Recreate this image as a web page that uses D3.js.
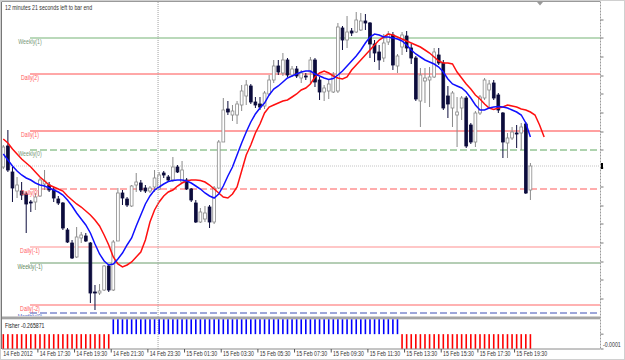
<!DOCTYPE html>
<html>
<head>
<meta charset="utf-8">
<script src="https://cdn.jsdelivr.net/npm/d3@7"></script>
<style>
body { margin: 0; background: #fff; }
svg { display: block; font-family: "Liberation Sans", Arial, sans-serif; }
</style>
</head>
<body>
<svg id="chart" width="625" height="360"></svg>
<script>
// 15 minute bars, 14 Feb 15:45 .. 15 Feb 20:15 (price in chart points, the scale is hidden on the original)
const open = [153,174,148,129,129,126,118,118,124,136, 135,130,121,117,90,77,63,82,84,77,
  28,27,30,54,30,79,127,121,114,135, 137,132,129,133,131,147,143,140,153,138,
  140,131,117,98,101,113,98,132,178,211, 205,205,215,224,234,218,216,214,226,240,
  254,247,260,245,251,242,244,248,260,240, 228,229,228,229,292,280,289,288,290,299,
  297,276,268,262,278,285,254,273,284,272, 262,219,239,240,243,265,257,224,212,205,
  212,222,195,178,207,222,230,237,225,207, 177,182,187,187,196,130];
const high = [175,190,153,143,138,128,120,127,142,150, 138,133,124,118,92,80,93,88,87,78,
  35,36,55,56,80,132,130,123,135,147, 140,135,134,150,148,149,145,163,155,159,
  142,132,120,112,114,115,134,180,222,219, 215,219,235,240,236,223,223,229,245,260,
  260,267,262,254,254,250,247,263,262,243, 235,240,248,297,294,304,292,308,307,306,
  298,280,275,286,289,288,266,288,289,276, 264,252,252,253,272,272,260,234,229,223,
  224,224,197,209,225,242,240,240,227,208, 187,193,195,197,198,157];
const low = [151,148,118,122,120,87,108,110,123,130, 128,118,115,90,77,61,62,77,78,17,
  10,25,29,28,29,79,115,113,113,128, 128,127,127,128,130,142,138,138,147,137,
  130,118,97,97,98,92,96,131,178,205, 199,196,209,215,216,212,210,211,224,237,
  245,244,243,243,242,237,240,236,233,220, 219,221,227,227,270,272,284,287,289,290,
  262,258,250,258,275,250,247,265,268,256, 219,193,217,213,242,255,210,202,193,173,
  200,172,176,173,205,220,212,220,207,162, 162,180,172,170,126,120];
const close = [173,150,132,135,125,116,117,123,140,139, 130,122,117,92,78,62,83,85,79,27,
  27,29,54,30,78,127,122,115,134,138, 130,129,132,142,145,145,140,153,148,150,
  131,120,98,108,107,98,132,178,210,208, 209,216,229,235,218,215,213,227,240,254,
  248,260,245,251,244,247,243,260,238,228, 232,236,245,293,280,288,287,300,299,297,
  276,267,260,277,286,255,264,285,272,262, 221,245,242,243,268,257,212,216,227,208,
  222,174,178,207,223,240,236,222,210,178, 182,188,186,193,127,154];

// blue moving average, one value per bar
const fastMA = [166,160,154,149,145,142,140,137,135,134, 132,130,128,125,120,114,107,101,95,87,
  76,66,59,55,56,61,67,75,82,94, 105,116,124,130,133,136,138.5,139.5,140,140,
  139,137,134,131,127,124,122,126,134,144, 153,165,177,188,198,206,212,217,225,231,
  234,238,242,244,246,248,249,249,246,244, 242,240.5,241.5,245,249,254,259,264,270,277,
  283,286,285,283,283,282,281,279,275,270, 266,263,260,258,256,253,248,241,236,234,
  232,228,222,215,210,210,212,213,213.5,213, 212,210,208,205,197,183];
// red moving average, drawn 3 bars forward (it runs 3 bars past the last candle);
// slowMA[k] is the value shown at bar position k
const slowMA = [181,177,171,166,161,157,153,148,143,139, 135,133,131,129,124,120,116,113,109,105,
  100,94,85,75,63,56,53,55,58,63, 68,80,98,110,118,124,128,130,134,137,
  139,140,140,139.5,138,135,131,127,123,122, 126,133,149,165,175,187,196,207,213,215,
  217,219,220,223,226,230,232,236,243,247, 249,247,244,242,241,243,250,255,260,265,
  270,275,280,283,286,285,283,281,279,277, 275,273,270,267,263,259,257,257,256,248,
  242,236,231,225,221,216,212,210.5,212,213, 215,214,213,211,210,208,205,195,183];

// Fisher histogram, one value per bar
const fisherHist = [
  -1e-4,-1e-4,-1e-4,-1e-4,-1e-4,-1e-4,-1e-4,-1e-4,-1e-4,-1e-4,-1e-4,-1e-4,
  -1e-4,-1e-4,-1e-4,-1e-4,-1e-4,-1e-4,-1e-4,-1e-4,-1e-4,-1e-4,-1e-4,-1e-4,
  1e-4,1e-4,1e-4,1e-4,1e-4,1e-4,1e-4,1e-4,1e-4,1e-4,1e-4,1e-4,
  1e-4,1e-4,1e-4,1e-4,1e-4,1e-4,1e-4,1e-4,1e-4,1e-4,1e-4,1e-4,
  1e-4,1e-4,1e-4,1e-4,1e-4,1e-4,1e-4,1e-4,1e-4,1e-4,1e-4,1e-4,
  1e-4,1e-4,1e-4,1e-4,1e-4,1e-4,1e-4,1e-4,1e-4,1e-4,1e-4,1e-4,
  1e-4,1e-4,1e-4,1e-4,1e-4,1e-4,1e-4,1e-4,1e-4,1e-4,1e-4,1e-4,
  1e-4,1e-4,1e-4,
  -1e-4,-1e-4,-1e-4,-1e-4,-1e-4,-1e-4,-1e-4,-1e-4,-1e-4,-1e-4,-1e-4,-1e-4,
  -1e-4,-1e-4,-1e-4,-1e-4,-1e-4,-1e-4,-1e-4,-1e-4,-1e-4,-1e-4,-1e-4,-1e-4,
  -1e-4,-1e-4,-1e-4,-1e-4,-1e-4];
const fisherValue = "-0.265871";

const pivotNames = ["Weekly(1)", "Daily(2)", "Daily(1)", "Weekly(0)", "Daily(0)", "Daily(-1)", "Weekly(-1)", "Daily(-2)", "Monthly(0)"];
const pivotValues = [282, 246, 189, 170, 131, 73, 57, 15, 7];

const priceTicks = [21, 40, 58, 77, 96, 114, 133, 152, 170, 188, 207, 226, 244, 263, 282, 300];

const timeLabels = ["14 Feb 2012", "14 Feb 17:30", "14 Feb 19:30", "14 Feb 21:30", "14 Feb 23:30", "15 Feb 01:30",
  "15 Feb 03:30", "15 Feb 05:30", "15 Feb 07:30", "15 Feb 09:30", "15 Feb 11:30", "15 Feb 13:30",
  "15 Feb 15:30", "15 Feb 17:30", "15 Feb 19:30"];
const timeLabelBars = [0, 7, 15, 23, 31, 39, 47, 55, 63, 71, 79, 87, 95, 103, 111];
const dayStartBar = 33; // 15 Feb 00:00

const countdownText = "12 minutes 21 seconds left to bar end";

// styles
const pivotStyle = {
    "Weekly(1)":  {stroke: "#a3cda3", width: 1.6, dash: null, label: "#789878"},
    "Daily(2)":   {stroke: "#ff5050", width: 1, dash: null, label: "#ff5a5a"},
    "Daily(1)":   {stroke: "#ffa0a0", width: 1.8, dash: null, label: "#ff6464"},
    "Weekly(0)":  {stroke: "#5fa85f", width: 1, dash: "7,3", label: "#789878"},
    "Daily(0)":   {stroke: "#ff5a5a", width: 1, dash: "7,3", label: "#ff5050"},
    "Daily(-1)":  {stroke: "#ff9090", width: 1.2, dash: null, label: "#ff6464"},
    "Weekly(-1)": {stroke: "#6b9c6b", width: 1, dash: null, label: "#5f8a5f"},
    "Daily(-2)":  {stroke: "#ff6666", width: 1.2, dash: null, label: "#ff5a5a"},
    "Monthly(0)": {stroke: "#3d4fb5", width: 1, dash: "7,3", label: "#6070c8"}
};
const FONT = 6.3;
const SQUEEZE = 0.83; // the screenshot text is narrower than Liberation Sans

const svg = d3.select("#chart");
const panel = {left: 2, top: 2, right: 600, bottom: 316};
const indTop = 319.3, indBottom = 349;

const x = d3.scaleLinear().domain([0, open.length - 1]).range([3.3, 530.4]);
const y = d3.scaleLinear().domain([0, 320]).range([320, 0]);
const fy = d3.scaleLinear().domain([-1e-4, 1e-4]).range([indBottom, indTop]);

function label(parent, tx, ty, str, color, anchor) {
    const t = parent.append("text")
        .attr("x", tx).attr("y", ty)
        .attr("font-size", FONT)
        .attr("fill", color)
        .attr("text-anchor", anchor || "start")
        .text(str);
    const len = t.node().getComputedTextLength();
    t.attr("textLength", len * SQUEEZE).attr("lengthAdjust", "spacingAndGlyphs");
    return t;
}

svg.append("rect").attr("width", 625).attr("height", 360).attr("fill", "#fff");

const defs = svg.append("defs");
defs.append("clipPath").attr("id", "mainClip").append("rect")
    .attr("x", panel.left).attr("y", panel.top)
    .attr("width", panel.right - panel.left).attr("height", panel.bottom - panel.top);

const main = svg.append("g").attr("clip-path", "url(#mainClip)");

// day separator
const sepX = x(dayStartBar) + 3.5;
svg.append("line")
    .attr("x1", sepX).attr("x2", sepX).attr("y1", panel.top).attr("y2", indBottom)
    .attr("stroke", "#a0a0a0").attr("stroke-width", 1).attr("stroke-dasharray", "1,1");

// pivot lines
pivotNames.forEach((name, k) => {
    const s = pivotStyle[name];
    main.append("line")
        .attr("x1", 30).attr("x2", panel.right)
        .attr("y1", y(pivotValues[k])).attr("y2", y(pivotValues[k]))
        .attr("stroke", s.stroke).attr("stroke-width", s.width)
        .attr("stroke-dasharray", s.dash);
});

// bid line
const lastClose = close[close.length - 1];
main.append("line")
    .attr("x1", panel.left).attr("x2", panel.right)
    .attr("y1", y(lastClose)).attr("y2", y(lastClose))
    .attr("stroke", "#c4c4c4").attr("stroke-width", 1).attr("stroke-dasharray", "1,1");

// candles
const bars = open.map((o, i) => ({i, o, h: high[i], l: low[i], c: close[i]}));
const BULL = "#8a8a8a", BEAR = "#0c0c3c", BODY = 2.8;

main.append("g").selectAll("line")
    .data(bars).enter().append("line")
    .attr("x1", d => x(d.i)).attr("x2", d => x(d.i))
    .attr("y1", d => y(d.h)).attr("y2", d => y(d.l))
    .attr("stroke", d => d.c >= d.o ? BULL : BEAR)
    .attr("stroke-width", 1);

main.append("g").selectAll("rect")
    .data(bars).enter().append("rect")
    .attr("x", d => x(d.i) - BODY / 2)
    .attr("width", BODY)
    .attr("y", d => y(Math.max(d.o, d.c)))
    .attr("height", d => Math.max(Math.abs(y(d.o) - y(d.c)), 0.8))
    .attr("fill", d => d.c > d.o ? "#fff" : BEAR)
    .attr("stroke", d => d.c > d.o ? BULL : BEAR)
    .attr("stroke-width", 0.8);

// moving averages
const lineGen = d3.line().x(d => x(d[0])).y(d => y(d[1]));
main.append("path")
    .attr("d", lineGen(slowMA.map((v, k) => [k, v])))
    .attr("fill", "none").attr("stroke", "#ff1010").attr("stroke-width", 1.5);
main.append("path")
    .attr("d", lineGen(fastMA.map((v, i) => [i, v])))
    .attr("fill", "none").attr("stroke", "#1010ff").attr("stroke-width", 1.5);

// pivot labels
pivotNames.forEach((name, k) => {
    label(main, 30, y(pivotValues[k]) + 6.3, name, pivotStyle[name].label, "middle");
});

// top text and chart shift marker
label(svg, 5, 9.5, countdownText, "#333");
svg.append("path").attr("d", "M537,2 L543,2 L540,5.5 Z").attr("fill", "#9a9a9a");

// panel separator
svg.append("rect").attr("x", panel.left).attr("y", 316.5).attr("width", panel.right - panel.left)
    .attr("height", 2.8).attr("fill", "#a4a4a4");

// Fisher histogram
svg.append("g").selectAll("rect")
    .data(fisherHist).enter().append("rect")
    .attr("x", (d, i) => x(i) - 0.8)
    .attr("width", 1.6)
    .attr("y", d => Math.min(fy(d), fy(0)))
    .attr("height", d => Math.abs(fy(d) - fy(0)))
    .attr("fill", d => d > 0 ? "#0000ff" : "#ff0000");

label(svg, 5, 327.5, "Fisher " + fisherValue, "#222");
label(svg, 603, 346.5, fy.domain()[0].toFixed(4), "#333");

// frames
svg.append("line").attr("x1", panel.left).attr("x2", panel.right).attr("y1", 1.5).attr("y2", 1.5)
    .attr("stroke", "#9a9a9a");
svg.append("line").attr("x1", 1.5).attr("x2", 1.5).attr("y1", 1.5).attr("y2", indBottom)
    .attr("stroke", "#777");
svg.append("line").attr("x1", panel.left).attr("x2", panel.right).attr("y1", indBottom).attr("y2", indBottom)
    .attr("stroke", "#8a8a8a");

// right price axis
svg.append("line").attr("x1", 600.5).attr("x2", 600.5).attr("y1", 1.5).attr("y2", indBottom)
    .attr("stroke", "#9a9a9a").attr("stroke-dasharray", "2,1");
svg.append("g").selectAll("line")
    .data(priceTicks).enter().append("line")
    .attr("x1", 600.5).attr("x2", 603.5)
    .attr("y1", d => y(d)).attr("y2", d => y(d))
    .attr("stroke", "#777");
svg.append("g").selectAll("line")
    .data([0, fy.domain()[0]]).enter().append("line")
    .attr("x1", 600.5).attr("x2", 603.5)
    .attr("y1", d => fy(d)).attr("y2", d => fy(d))
    .attr("stroke", "#777");
svg.append("rect").attr("x", 601).attr("y", y(lastClose) - 3).attr("width", 2).attr("height", 6)
    .attr("fill", "#000");

// time axis
timeLabels.forEach((t, k) => {
    const bx = x(timeLabelBars[k]);
    if (k > 0) {
        svg.append("line").attr("x1", bx + 2.5).attr("x2", bx + 2.5).attr("y1", indBottom).attr("y2", 352.5)
            .attr("stroke", "#555");
    }
    label(svg, k > 0 ? bx + 4.3 : bx, 355.8, t, "#333");
});

// outer border
svg.append("rect").attr("x", 0.5).attr("y", 0.5).attr("width", 624).attr("height", 359)
    .attr("fill", "none").attr("stroke", "#d0d0d0");
</script>
</body>
</html>
